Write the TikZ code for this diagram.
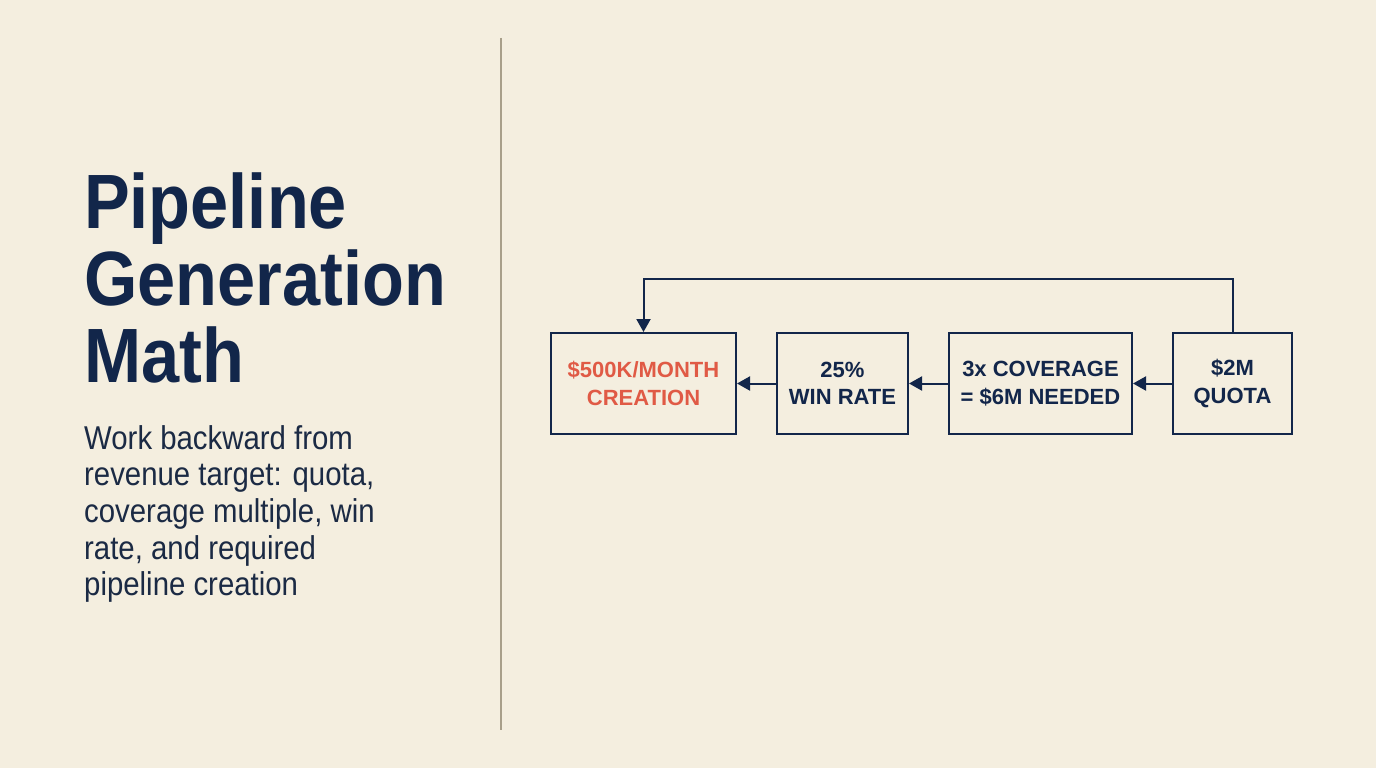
\documentclass[tikz,border=0pt]{standalone}
\usepackage{fontspec}
\setmainfont{Liberation Sans}
\newfontfamily\narrowfont[FakeStretch=0.89]{Liberation Sans}
\usetikzlibrary{arrows.meta}
\definecolor{paper}{HTML}{F4EEDF}
\definecolor{navy}{HTML}{12264A}
\definecolor{ink}{HTML}{1B2A44}
\definecolor{coral}{HTML}{E05A45}
\definecolor{divider}{HTML}{A89F8A}
\begin{document}
\begin{tikzpicture}[x=1pt,y=-1pt,
	stepbox/.style={draw=navy,line width=2pt,minimum height=101pt,inner sep=0pt,
		align=center,text=navy,font=\fontsize{22}{27.5}\selectfont\bfseries},
	flow/.style={draw=navy,line width=2pt,-{Triangle[length=13pt,width=14pt]}}]
		\fill[paper] (0,0) rectangle (1376,768);
		\useasboundingbox (0,0) rectangle (1376,768);
		% left column
		\draw[divider,line width=2pt] (501,38) -- (501,730);
		\node[anchor=north west,inner sep=0pt,align=left,text=navy,
			font=\narrowfont\fontsize{77}{77}\selectfont\bfseries] (title) at (84,173)
			{Pipeline\\Generation\\Math};
		\node[anchor=north west,inner sep=0pt,align=left,text=ink,
			font=\narrowfont\fontsize{33}{36.7}\selectfont] (lead) at (84,425)
			{Work backward from\\revenue target: quota,\\coverage multiple, win\\rate, and required\\pipeline creation};
		% flow boxes
		\node[stepbox,minimum width=185pt,text=coral] (creation) at (643.5,383.5) {\$500K/MONTH\\CREATION};
		\node[stepbox,minimum width=131pt] (winrate) at (842.5,383.5) {25\%\\WIN RATE};
		\node[stepbox,minimum width=183pt] (coverage) at (1040.5,383.5) {3x COVERAGE\\= \$6M NEEDED};
		\node[stepbox,minimum width=119pt] (quota) at (1232.5,383.5) {\$2M\\QUOTA};
		\draw[flow] (quota) -- (coverage);
		\draw[flow] (coverage) -- (winrate);
		\draw[flow] (winrate) -- (creation);
		\draw[flow] (quota.north) -- ++(0,-53) -| (creation.north);
\end{tikzpicture}
\end{document}
